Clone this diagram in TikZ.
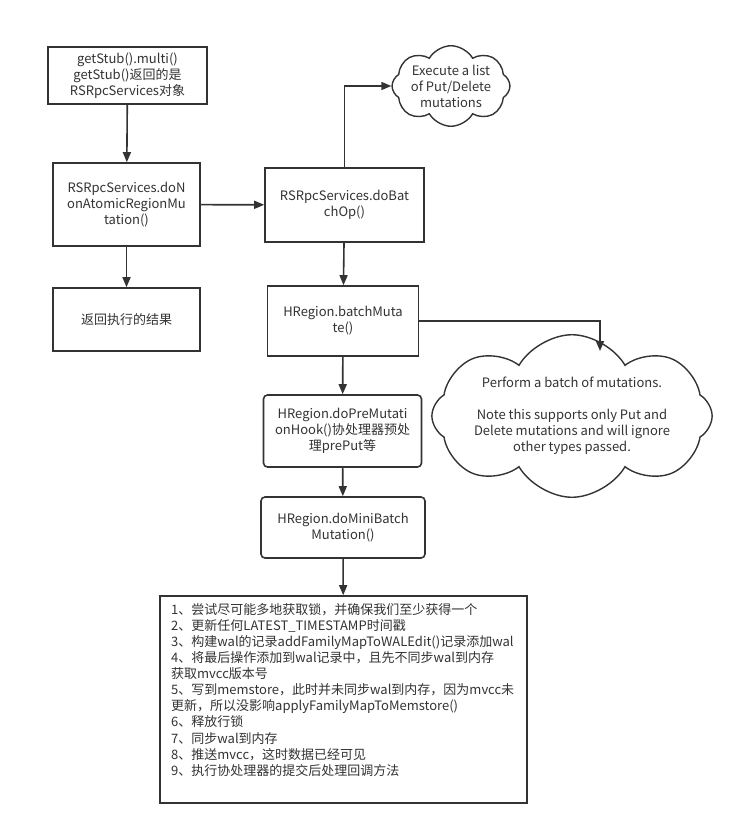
\documentclass[tikz,border=0pt]{standalone}
\usepackage{fontspec}
\setmainfont{Noto Sans CJK SC}
\usetikzlibrary{shapes.symbols,arrows.meta}
\definecolor{ink}{HTML}{333333}
\tikzset{
  box/.style={draw=ink, line width=1.6bp, fill=white, align=center, inner sep=2bp, text=ink, font=\fontsize{13bp}{16bp}\selectfont},
  rbox/.style={box, rounded corners=4bp},
  cl/.style={draw=ink, line width=1.4bp, cloud, cloud ignores aspect, cloud puff arc=120, align=center, inner sep=0pt, text=ink, font=\fontsize{13bp}{16bp}\selectfont},
  arr/.style={draw=ink, line width=1.6bp, -{Triangle[length=10bp,width=8bp]}}
}
\begin{document}
\begin{tikzpicture}[x=1bp,y=-1bp]
\useasboundingbox (0,0) rectangle (732,837);
\node[box, minimum width=159bp, minimum height=57bp] (b1) at (127.5,75.5) {getStub().multi()\\getStub()返回的是\\RSRpcServices对象};
\node[box, minimum width=147bp, minimum height=83bp] (b2) at (126.5,204.5) {RSRpcServices.doN\\onAtomicRegionMu\\tation()};
\node[box, minimum width=147bp, minimum height=63bp] (b3) at (126.5,319.5) {返回执行的结果};
\node[box, minimum width=159bp, minimum height=74bp] (b4) at (344.5,205) {RSRpcServices.doBat\\chOp()};
\node[box, minimum width=151bp, minimum height=70bp] (b5) at (343,321) {HRegion.batchMuta\\te()};
\node[rbox, minimum width=158bp, minimum height=72bp] (b6) at (342.5,431) {HRegion.doPreMutati\\onHook()协处理器预处\\理prePut等};
\node[rbox, minimum width=164bp, minimum height=61bp] (b7) at (343,527.5) {HRegion.doMiniBatch\\Mutation()};
\node[box, minimum width=367bp, minimum height=207bp] (b8) at (343.5,699.5) {};
\node[anchor=north west, align=left, inner sep=0pt, text=ink, font=\fontsize{13bp}{16.1bp}\selectfont] (t8) at (171,603) {1、尝试尽可能多地获取锁，并确保我们至少获得一个\\2、更新任何LATEST\_TIMESTAMP时间戳\\3、构建wal的记录addFamilyMapToWALEdit()记录添加wal\\4、将最后操作添加到wal记录中，且先不同步wal到内存\\获取mvcc版本号\\5、写到memstore，此时并未同步wal到内存，因为mvcc未\\更新，所以没影响applyFamilyMapToMemstore()\\6、释放行锁\\7、同步wal到内存\\8、推送mvcc，这时数据已经可见\\9、执行协处理器的提交后处理回调方法};
\node[cl, cloud puffs=8, minimum width=110bp, minimum height=80bp] (c1) at (451,86) {Execute a list\\of Put/Delete\\mutations};
\node[cl, cloud puffs=8, minimum width=204bp, minimum height=88bp] (c2) at (572,416) {Perform a batch of mutations.\\[16bp]Note this supports only Put and\\Delete mutations and will ignore\\other types passed.};
\coordinate (c2top) at (600,351);
\draw[arr] (b1) -- (b2);
\draw[arr] (b2) -- (b3);
\draw[arr] (b2) -- (b4);
\draw[arr] (b4.north) |- (c1.west);
\draw[arr] (b4) -- (b5);
\draw[arr] (b5.east) -| (c2top);
\draw[arr] (b5) -- (b6);
\draw[arr] (b6) -- (b7);
\draw[arr] (b7) -- (b8);
\end{tikzpicture}
\end{document}
